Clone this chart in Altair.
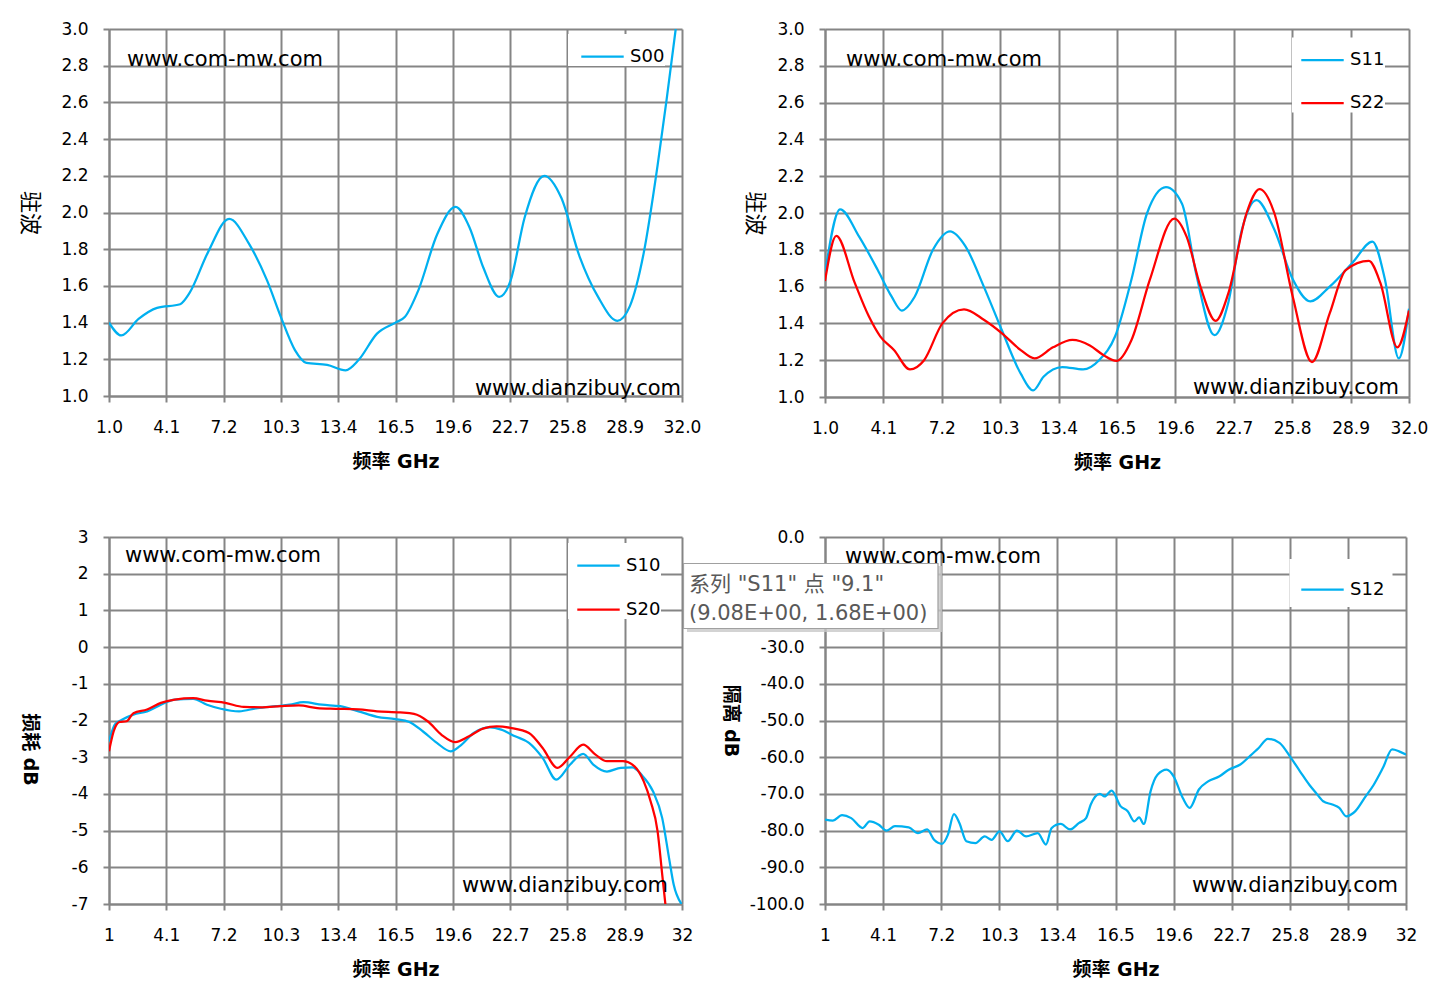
import altair as alt
import pandas as pd

FONT = "DejaVu Sans, Noto Sans CJK SC, sans-serif"
BLUE = "#00B0F0"
RED = "#FF0000"
GRID = "#858585"

X_TICKS = [1.0, 4.1, 7.2, 10.3, 13.4, 16.5, 19.6, 22.7, 25.8, 28.9, 32.0]
Y_TICKS_VSWR = [1.0, 1.2, 1.4, 1.6, 1.8, 2.0, 2.2, 2.4, 2.6, 2.8, 3.0]
Y_TICKS_LOSS = [3, 2, 1, 0, -1, -2, -3, -4, -5, -6, -7]
Y_TICKS_ISO = [0, -10, -20, -30, -40, -50, -60, -70, -80, -90, -100]

# ---- S00 (top-left) ----
S00_f = [1.0, 1.67, 2.6, 3.6, 4.85, 5.35, 6.34, 7.5, 8.57, 9.55, 10.3, 11.06, 11.68, 12.8,
         13.8, 14.5, 15.5, 16.5, 17.0, 17.75, 18.75, 19.75, 20.5, 21.25, 22.11, 22.73, 23.48,
         24.55, 25.47, 26.46, 27.46, 28.5, 29.18, 29.93, 30.67, 31.16, 31.66]
S00_v = [1.40, 1.33, 1.42, 1.48, 1.50, 1.56, 1.78, 1.965, 1.83, 1.63, 1.43, 1.25, 1.18, 1.17,
         1.14, 1.196, 1.34, 1.40, 1.43, 1.58, 1.88, 2.03, 1.92, 1.70, 1.54, 1.63, 1.97,
         2.20, 2.08, 1.76, 1.54, 1.41, 1.49, 1.78, 2.25, 2.61, 3.0]

# ---- S11 / S22 (top-right) ----
S11_f = [1.0, 1.8, 2.82, 3.8, 4.54, 5.07, 5.76, 6.73, 7.64, 8.45, 9.43, 10.4, 11.39, 12.05,
         12.6, 13.6, 14.7, 15.55, 16.4, 17.27, 18.1, 19.1, 19.95, 20.7, 21.67, 22.4, 23.13,
         23.9, 24.85, 25.83, 26.76, 27.79, 29.0, 30.06, 30.72, 31.46, 32.0]
S11_v = [1.67, 2.02, 1.87, 1.69, 1.545, 1.47, 1.545, 1.80, 1.90, 1.82, 1.60, 1.36, 1.127, 1.036,
         1.11, 1.163, 1.15, 1.2, 1.33, 1.64, 2.0, 2.14, 2.05, 1.67, 1.336, 1.51, 1.91,
         2.07, 1.91, 1.64, 1.52, 1.60, 1.73, 1.845, 1.64, 1.21, 1.48]
S22_f = [1.0, 1.6, 2.58, 3.32, 3.93, 4.66, 5.51, 6.26, 7.23, 8.38, 9.43, 10.41, 11.39, 12.12,
         13.1, 14.13, 15.06, 15.79, 16.47, 17.27, 18.24, 19.54, 20.2, 20.93, 21.74, 22.4, 23.38,
         24.07, 24.85, 25.83, 26.85, 27.79, 28.64, 29.87, 30.48, 31.38, 32.0]
S22_v = [1.63, 1.876, 1.62, 1.44, 1.33, 1.255, 1.15, 1.20, 1.40, 1.476, 1.42, 1.345, 1.255, 1.21,
         1.27, 1.31, 1.28, 1.227, 1.196, 1.31, 1.636, 1.97, 1.87, 1.60, 1.414, 1.56, 2.0,
         2.13, 2.0, 1.545, 1.19, 1.454, 1.69, 1.74, 1.62, 1.27, 1.47]

# ---- S10 / S20 (bottom-left) ----
S10_f = [1.0, 1.32, 1.70, 2.32, 3.06, 3.81, 4.56, 5.55, 6.30, 7.05, 8.04, 9.04, 10.03, 10.78,
         11.52, 12.52, 13.51, 14.5, 15.5, 16.5, 17.25, 17.99, 18.74, 19.49, 19.98, 20.73, 21.6,
         22.22, 22.97, 23.72, 24.46, 25.2, 25.95, 26.65, 27.2, 27.94, 28.69, 29.31, 29.81,
         30.43, 30.93, 31.3, 31.55, 31.97]
S10_v = [-2.57, -2.11, -1.98, -1.84, -1.75, -1.57, -1.43, -1.41, -1.57, -1.68, -1.75, -1.66,
         -1.61, -1.57, -1.50, -1.57, -1.61, -1.75, -1.90, -1.96, -2.04, -2.30, -2.61, -2.84,
         -2.70, -2.34, -2.19, -2.25, -2.43, -2.61, -3.02, -3.61, -3.20, -2.91, -3.20, -3.39,
         -3.29, -3.28, -3.48, -3.93, -4.66, -5.75, -6.47, -7.0]
S20_f = [1.0, 1.25, 1.57, 1.95, 2.32, 3.06, 3.81, 4.56, 5.55, 6.30, 7.29, 8.29, 9.28, 10.28,
         11.27, 12.27, 13.26, 14.5, 15.5, 16.75, 17.5, 18.24, 18.99, 19.73, 20.48, 21.23, 21.97,
         22.72, 23.72, 24.46, 25.26, 25.95, 26.65, 27.32, 27.94, 28.81, 29.43, 29.93, 30.3,
         30.68, 30.93, 31.1]
S20_v = [-2.84, -2.30, -2.04, -2.02, -1.80, -1.70, -1.52, -1.43, -1.39, -1.46, -1.52, -1.63,
         -1.64, -1.61, -1.59, -1.66, -1.68, -1.70, -1.75, -1.78, -1.82, -2.02, -2.39, -2.59,
         -2.43, -2.22, -2.16, -2.20, -2.34, -2.75, -3.29, -2.98, -2.66, -2.93, -3.11, -3.11,
         -3.25, -3.66, -4.20, -5.02, -6.20, -7.0]

# ---- S12 (bottom-right) ----
S12_f = [1.0, 1.42, 1.91, 2.4, 3.01, 3.38, 3.87, 4.29, 4.73, 5.47, 5.96, 6.45, 6.82, 7.24,
         7.56, 7.88, 8.17, 8.54, 9.03, 9.52, 9.89, 10.31, 10.75, 11.24, 11.73, 12.35, 12.79,
         13.09, 13.58, 14.07, 14.56, 14.93, 15.18, 15.67, 15.92, 16.29, 16.78, 17.15, 17.51,
         17.76, 18.01, 18.37, 18.74, 19.23, 19.6, 20.09, 20.46, 20.95, 21.44, 22.05, 22.54,
         23.16, 23.65, 24.14, 24.63, 25.25, 25.86, 26.35, 26.84, 27.21, 27.58, 28.07, 28.44,
         28.81, 29.3, 29.79, 30.28, 30.77, 31.26, 31.63, 32.0]
S12_v = [-77.0, -77.3, -75.8, -76.6, -79.3, -77.5, -78.4, -80.0, -78.8, -79.1, -80.7, -79.7,
         -82.5, -83.6, -81.1, -75.5, -77.9, -82.9, -83.4, -81.6, -82.5, -80.2, -82.9, -80.0,
         -81.6, -80.7, -83.8, -79.3, -78.2, -79.7, -77.9, -76.6, -72.9, -70.0, -70.7, -69.1,
         -73.4, -74.7, -77.5, -76.4, -78.2, -69.3, -64.8, -63.4, -65.2, -71.1, -73.8, -68.8,
         -66.6, -65.2, -63.4, -62.0, -59.8, -57.5, -55.0, -56.1, -60.2, -63.9, -67.5, -69.8,
         -72.0, -72.9, -73.8, -76.1, -74.7, -71.1, -67.5, -62.9, -57.9, -58.4, -59.3]

WM_TOP = "www.com-mw.com"
WM_BOTTOM = "www.dianzibuy.com"
TIP_LINE1 = '系列 "S11" 点 "9.1"'
TIP_LINE2 = "(9.08E+00, 1.68E+00)"

X_LAB_TOP = "format(datum.value, '.1f')"
X_LAB_BOT = "(datum.value == 1 || datum.value == 32) ? format(datum.value, 'd') : format(datum.value, '.1f')"
Y_LAB_1F = "(datum.value < 0 ? '-' : '') + format(abs(datum.value), '.1f')"
Y_LAB_D = "(datum.value < 0 ? '-' : '') + format(abs(datum.value), 'd')"
# labels -10.0 and -20.0 are hidden behind the tooltip box in the reference
Y_LAB_ISO = ("(datum.value == -10 || datum.value == -20) ? '' : "
             "(datum.value < 0 ? '-' : '') + format(abs(datum.value), '.1f')")


def one_row():
    return pd.DataFrame({"k": [0]})


def panel(series, ydom, yticks, ylab, xlab, ytitle, w, h, tx, ty, leg, wm, extra=None,
          tsize=19, tweight="bold"):
    rows = []
    for name, color, fs, vs in series:
        for a, b in zip(fs, vs):
            rows.append({"f": a, "v": b, "s": name})
    df = pd.DataFrame(rows)
    names = [s[0] for s in series]
    cols = [s[1] for s in series]
    yaxis = dict(values=yticks, labelExpr=ylab, title=ytitle, titleAngle=90, titleX=tx,
                 titleBaseline="middle", titleAlign="center", labelPadding=15,
                 labelFlush=False, titleFontSize=tsize, titleFontWeight=tweight)
    if ty is not None:
        yaxis["titleY"] = ty
    line = alt.Chart(df).mark_line(strokeWidth=2.25, interpolate="monotone", clip=True).encode(
        x=alt.X("f:Q", scale=alt.Scale(domain=[1, 32], nice=False, zero=False),
                axis=alt.Axis(values=X_TICKS, labelExpr=xlab, title="频率 GHz", titleY=65,
                              titleBaseline="middle", labelPadding=17, labelFlush=False,
                              labelOverlap=False)),
        y=alt.Y("v:Q", scale=alt.Scale(domain=ydom, nice=False, zero=False),
                axis=alt.Axis(**yaxis)),
        color=alt.Color("s:N", scale=alt.Scale(domain=names, range=cols),
                        legend=alt.Legend(title=None, orient="none", legendX=leg["x"], legendY=leg["y"],
                                          fillColor="white", padding=leg["pad"], symbolType="stroke",
                                          symbolSize=1800, symbolStrokeWidth=2.25,
                                          symbolOffset=leg["so"], labelOffset=5,
                                          labelFont=FONT, labelFontSize=18, labelColor="#000000",
                                          rowPadding=leg["rp"])),
    )
    t1 = alt.Chart(one_row()).mark_text(align="left", baseline="alphabetic", font=FONT,
                                        fontSize=21, color="#000000").encode(
        x=alt.value(wm[0]), y=alt.value(wm[1]), text=alt.value(WM_TOP))
    t2 = alt.Chart(one_row()).mark_text(align="right", baseline="alphabetic", font=FONT,
                                        fontSize=21, color="#000000").encode(
        x=alt.value(wm[2]), y=alt.value(wm[3]), text=alt.value(WM_BOTTOM))
    layers = [line, t1, t2]
    if extra:
        layers += extra
    return alt.layer(*layers).properties(width=w, height=h)


TL = panel([("S00", BLUE, S00_f, S00_v)], [1, 3], Y_TICKS_VSWR, Y_LAB_1F, X_LAB_TOP, "驻波",
           573, 367, -80, None, {"x": 459, "y": 5, "pad": 0, "so": 12, "rp": 0},
           (18, 37, 572, 366), tsize=22, tweight="normal")
TR = panel([("S11", BLUE, S11_f, S11_v), ("S22", RED, S22_f, S22_v)], [1, 3], Y_TICKS_VSWR,
           Y_LAB_1F, X_LAB_TOP, "驻波", 584, 368, -70.5, None,
           {"x": 467, "y": 8.5, "pad": 0, "so": 8, "rp": 11}, (21, 37, 574, 365),
           tsize=22, tweight="normal")

shadow = alt.Chart(one_row()).mark_rect(color="#c8c8c8", opacity=0.8).encode(
    x=alt.value(-138), x2=alt.value(117), y=alt.value(29), y2=alt.value(95))
tipbox = alt.Chart(one_row()).mark_rect(fill="white", stroke="#a0a0a0", strokeWidth=1.2).encode(
    x=alt.value(-141.5), x2=alt.value(113), y=alt.value(26.5), y2=alt.value(91.5))
tip1 = alt.Chart(one_row()).mark_text(align="left", baseline="alphabetic", font=FONT,
                                      fontSize=21, color="#595959").encode(
    x=alt.value(-136), y=alt.value(54), text=alt.value(TIP_LINE1))
tip2 = alt.Chart(one_row()).mark_text(align="left", baseline="alphabetic", font=FONT,
                                      fontSize=21, color="#595959").encode(
    x=alt.value(-136), y=alt.value(83), text=alt.value(TIP_LINE2))

BL = panel([("S10", BLUE, S10_f, S10_v), ("S20", RED, S20_f, S20_v)], [-7, 3], Y_TICKS_LOSS,
           Y_LAB_D, X_LAB_BOT, "损耗 dB", 573, 367, -80, 212,
           {"x": 459, "y": 6, "pad": 0, "so": 8, "rp": 12}, (16, 25, 559, 355))
BR = panel([("S12", BLUE, S12_f, S12_v)], [-100, 0], Y_TICKS_ISO, Y_LAB_ISO, X_LAB_BOT, "隔离 dB",
           581, 367, -94.5, None, {"x": 464.5, "y": 22, "pad": 8, "so": 2.5, "rp": 0},
           (20, 26, 573, 355), extra=[shadow, tipbox, tip1, tip2])

chart = alt.concat(TL, TR, BL, BR, columns=2, spacing={"row": 140, "column": 143},
                   bounds="flush").resolve_scale(
    x="independent", y="independent", color="independent"
).properties(
    padding={"left": 10, "top": 12, "right": 5, "bottom": 5}
).configure_view(stroke=None).configure_axis(
    grid=True, gridColor=GRID, gridWidth=2, domainColor=GRID, domainWidth=2,
    tickColor=GRID, tickWidth=2, tickSize=6,
    labelFont=FONT, labelFontSize=17, labelColor="#000000",
    titleFont=FONT, titleFontSize=19, titleFontWeight="bold", titleColor="#000000",
)

chart.save("out.html", embed_options={"renderer": "svg", "actions": False})
